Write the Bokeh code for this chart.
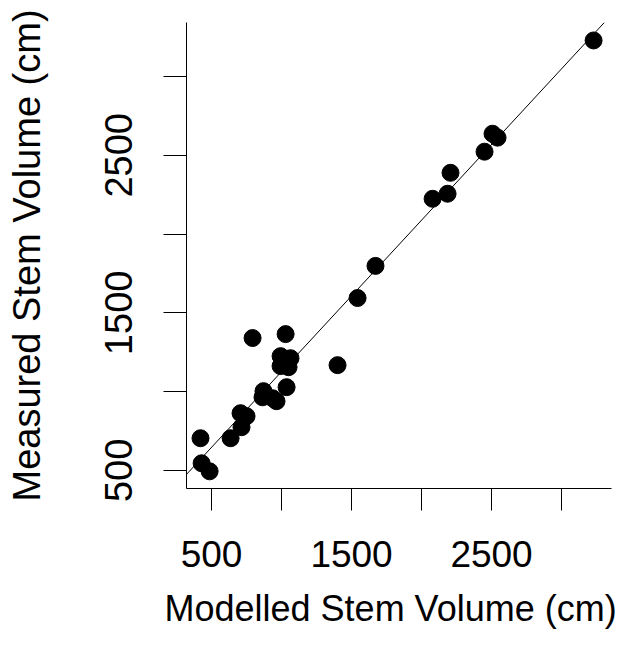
from bokeh.plotting import figure
from bokeh.models import Range1d, FixedTicker, Slope, ColumnDataSource, Title
from bokeh.embed import file_html
from bokeh.resources import INLINE

# Data
modelled = [3229, 2507, 2543, 2450, 2207, 2186, 2079, 1671, 1543, 1400,
            793, 1029, 993, 1064, 993, 1050, 871, 1036, 936, 864, 964,
            707, 750, 714, 636, 421, 429, 486]
measured = [3229, 2637, 2612, 2523, 2389, 2256, 2224, 1798, 1594, 1168,
            1340, 1365, 1225, 1212, 1162, 1155, 1003, 1028, 958, 964, 939,
            863, 844, 774, 704, 704, 545, 494]

fit_intercept = 166
fit_slope = 0.961

tick_values = [500, 1000, 1500, 2000, 2500, 3000]
tick_labels = ["500", "", "1500", "", "2500", ""]

x_title = "Modelled Stem Volume (cm)"
y_title = "Measured Stem Volume (cm)"

src = ColumnDataSource(dict(x=modelled, y=measured))

p = figure(width=617, height=650, output_backend="svg", toolbar_location=None,
           x_range=Range1d(321, 3357), y_range=Range1d(385, 3343),
           min_border_left=186, min_border_right=6, min_border_top=22,
           min_border_bottom=162)

p.background_fill_color = "white"
p.border_fill_color = "white"
p.outline_line_color = None
p.grid.visible = False

p.scatter("x", "y", source=src, size=17, fill_color="black", line_color="black")
p.add_layout(Slope(gradient=fit_slope, y_intercept=fit_intercept,
                   line_color="black", line_width=1))

overrides = dict(zip(tick_values, tick_labels))
font = "Liberation Sans"

for ax, fs in ((p.xaxis[0], "37px"), (p.yaxis[0], "38px")):
    ax.ticker = FixedTicker(ticks=tick_values)
    ax.major_label_overrides = overrides
    ax.minor_tick_line_color = None
    ax.major_tick_in = 0
    ax.axis_line_color = "black"
    ax.major_tick_line_color = "black"
    ax.major_label_text_font = font
    ax.major_label_text_font_size = fs
    ax.major_label_text_color = "black"
    ax.axis_label_text_font = font
    ax.axis_label_text_font_size = fs
    ax.axis_label_text_font_style = "normal"
    ax.axis_label_text_color = "black"

p.xaxis.major_tick_out = 22
p.xaxis.major_label_standoff = 30
p.yaxis.major_tick_out = 23
p.yaxis.major_label_orientation = "vertical"
p.yaxis.major_label_standoff = 31
p.yaxis.axis_label = y_title
p.yaxis.axis_label_standoff = 55

p.add_layout(Title(text=x_title, align="left", offset=-22, standoff=36,
                   vertical_align="top",
                   text_font=font, text_font_size="36px",
                   text_font_style="normal", text_color="black"), "below")

open("out.html", "w").write(file_html(p, INLINE))
